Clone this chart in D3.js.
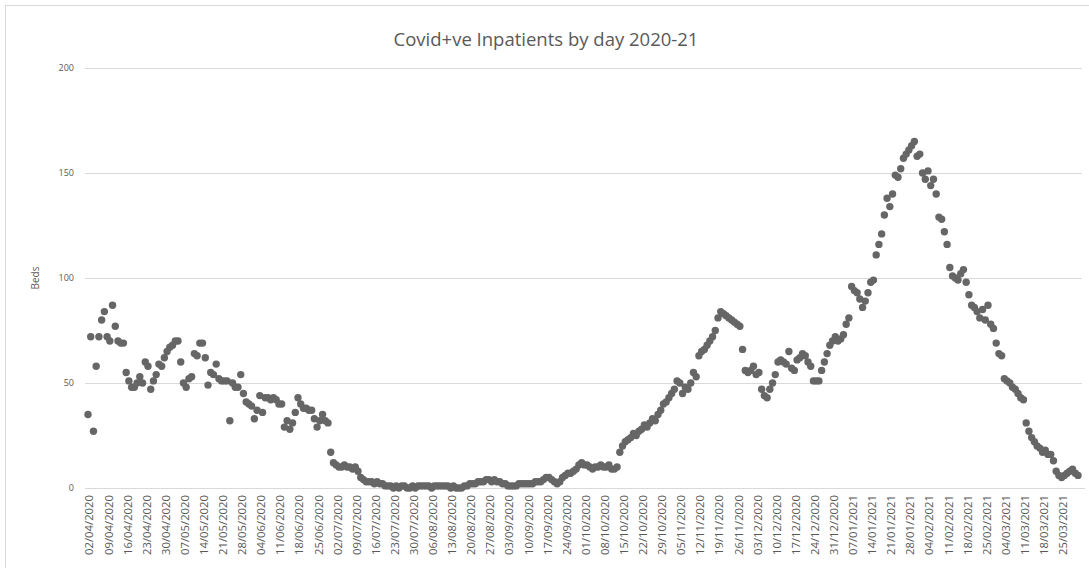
<!DOCTYPE html>
<html>
<head>
<meta charset="utf-8">
<title>Covid+ve Inpatients by day 2020-21</title>
<script src="https://cdn.jsdelivr.net/npm/d3@7"></script>
<style>
  body { margin: 0; background: #fff; }
  svg { display: block; }
  text { font-family: "Open Sans", "Liberation Sans", sans-serif; fill: #595959; }
</style>
</head>
<body>
<svg id="chart" width="1089" height="568"></svg>
<script>
// Daily count of occupied beds with Covid-positive inpatients, one array per month
const apr2020 = [35,72,27,58,72,80,84,72,70,87,77,70,69,69,55,51,48,48,50,53,50,60,58,47,51,54,59,58,62];
const may2020 = [65,67,68,70,70,60,50,48,52,53,64,63,69,69,62,49,55,54,59,52,51,51,51,32,50,48,48,54,45,41,40];
const jun2020 = [39,33,37,44,36,43,43,42,43,42,40,40,29,32,28,31,36,43,40,38,38,37,37,33,29,32,35,32,31,17];
const jul2020 = [12,11,10,10,11,10,10,9,10,8,5,4,3,3,3,2,3,2,2,1,1,1,0,1,0,1,1,0,0,1,0];
const aug2020 = [1,1,1,1,1,0,1,1,1,1,1,1,0,1,0,0,0,1,1,2,2,2,3,3,3,4,4,3,4,3,3];
const sep2020 = [2,2,1,1,1,1,2,2,2,2,2,2,3,3,3,4,5,5,4,3,2,3,5,6,7,7,8,9,11,12];
const oct2020 = [11,11,10,9,10,10,11,10,10,11,9,9,10,17,20,22,23,24,26,25,27,28,30,29,31,33,32,35,37,40,41];
const nov2020 = [43,45,47,51,50,45,48,47,50,55,53,63,65,66,68,70,72,75,81,84,83,82,81,80,79,78,77,66,56,55];
const dec2020 = [56,58,54,55,47,44,43,47,50,54,60,61,60,59,65,57,56,61,62,64,63,60,58,51,51,51,56,60,64,68,70];
const jan2021 = [72,70,71,73,78,81,96,94,93,90,86,89,93,98,99,111,116,121,130,138,134,140,149,148,152,157,159,161,163,165,158];
const feb2021 = [159,150,147,151,144,147,140,129,128,122,116,105,101,100,99,102,104,98,92,87,86,84,81,85,80,87,78,76];
const mar2021 = [69,64,63,52,51,50,48,47,45,43,42,31,27,24,22,20,19,17,18,16,16,13,8,6,5,6,7,8,9,7,6];

const beds = [].concat(apr2020, may2020, jun2020, jul2020, aug2020, sep2020,
                       oct2020, nov2020, dec2020, jan2021, feb2021, mar2021);

const firstDay = Date.UTC(2020, 3, 2);
const yTicks = [0, 50, 100, 150, 200];
const labelEvery = 7;

const fmt = d3.utcFormat("%d/%m/%Y");
const days = d3.utcDay.range(new Date(firstDay), d3.utcDay.offset(new Date(firstDay), beds.length));
const points = days.map((d, i) => ({ date: fmt(d), value: beds[i] }));

const svg = d3.select("#chart");
const W = 1089, H = 568;

// chart frame
svg.append("rect")
  .attr("x", 5.5).attr("y", 5.5)
  .attr("width", W + 10).attr("height", H + 10)
  .attr("fill", "#fff").attr("stroke", "#d9d9d9");

const plot = { left: 85, right: 1082, top: 68, bottom: 488 };

const x = d3.scalePoint()
  .domain(points.map(p => p.date))
  .range([88, 1078]);

const y = d3.scaleLinear()
  .domain([0, 200])
  .range([plot.bottom, plot.top]);

// horizontal gridlines + value labels
const yAxis = svg.append("g")
  .attr("transform", `translate(${plot.left},0)`)
  .call(d3.axisLeft(y).tickValues(yTicks).tickSize(-(plot.right - plot.left)).tickPadding(11));
yAxis.select(".domain").remove();
yAxis.selectAll(".tick line").attr("stroke", "#d9d9d9").attr("stroke-width", 1);
yAxis.selectAll(".tick text")
  .attr("font-size", 9)
  .style("fill", "#595959");

// category axis with a label every week
const xAxis = svg.append("g")
  .attr("transform", `translate(0,${plot.bottom})`)
  .call(d3.axisBottom(x)
    .tickValues(points.filter((p, i) => i % labelEvery === 0).map(p => p.date))
    .tickSize(0));
xAxis.select(".domain")
  .attr("d", `M${plot.left},0.5H${plot.right + 3}`)
  .attr("stroke", "#d9d9d9");
xAxis.selectAll(".tick text")
  .attr("transform", "rotate(-90)")
  .attr("text-anchor", "end")
  .attr("x", -7)
  .attr("y", 1)
  .attr("dy", "0.35em")
  .attr("font-size", 11.3)
  .style("fill", "#595959");

// daily markers
svg.append("g")
  .selectAll("circle")
  .data(points)
  .join("circle")
  .attr("cx", d => x(d.date))
  .attr("cy", d => y(d.value))
  .attr("r", 3.7)
  .attr("fill", "#666666");

// title
svg.append("text")
  .attr("x", 546).attr("y", 46)
  .attr("text-anchor", "middle")
  .attr("font-size", 18.5)
  .text("Covid+ve Inpatients by day 2020-21");

// value axis title
svg.append("text")
  .attr("transform", "translate(39,278) rotate(-90)")
  .attr("text-anchor", "middle")
  .attr("font-size", 10)
  .text("Beds");
</script>
</body>
</html>
